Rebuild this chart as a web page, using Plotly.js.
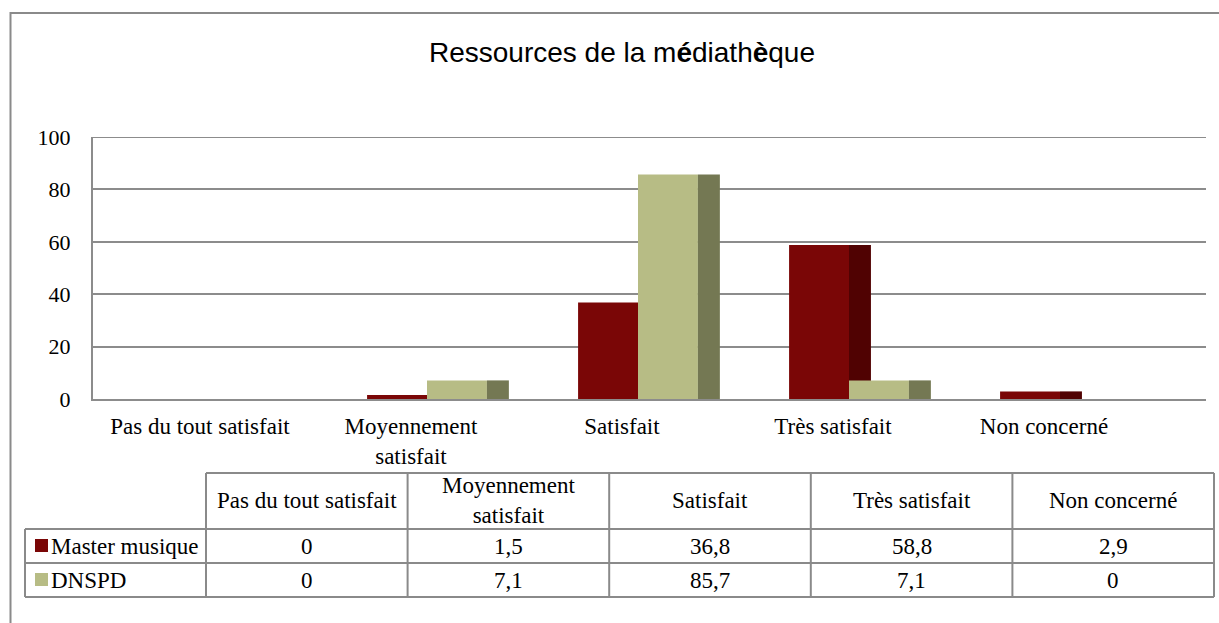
<!DOCTYPE html>
<html>
<head>
<meta charset="utf-8">
<script src="https://cdn.plot.ly/plotly-3.0.1.min.js"></script>
<style>
html,body{margin:0;padding:0;background:#fff;}
#chart{width:1219px;height:623px;}
</style>
</head>
<body>
<div id="chart"></div>
<script>
// ---- data ----
const categories = ['Pas du tout satisfait', 'Moyennement satisfait', 'Satisfait', 'Très satisfait', 'Non concerné'];
const tickLabels = ['Pas du tout satisfait', 'Moyennement<br>satisfait', 'Satisfait', 'Très satisfait', 'Non concerné'];
const headerLabels = ['Pas du tout satisfait', 'Moyennement<br>satisfait', 'Satisfait', 'Très satisfait', 'Non concerné'];
const seriesNames = ['Master musique', 'DNSPD'];
const masterMusique = [0, 1.5, 36.8, 58.8, 2.9];
const dnspd = [0, 7.1, 85.7, 7.1, 0];
const yTicks = [0, 20, 40, 60, 80, 100];

// ---- styles ----
const RED = '#7a0606', RED_SIDE = '#500202';
const GREEN = '#b7bc85', GREEN_SIDE = '#747853';
const GRID = '#8c8c8c';
const SERIF = 'Liberation Serif';
const FRONT_W = 0.284, SIDE_W = 0.104, LABEL_SHIFT = -0.076;

const xs = categories.map((c, i) => i);
const seriesValues = [masterMusique, dnspd];
const seriesColors = [RED, GREEN];

function barTrace(vals, color, offset, width, name) {
  return {
    type: 'bar', x: xs, y: vals, name: name,
    offset: offset, width: width,
    marker: {color: color, opacity: 1, line: {width: 0}},
    hoverinfo: 'skip', showlegend: false
  };
}

const traces = [
  barTrace(masterMusique, RED_SIDE, 0, SIDE_W, seriesNames[0]),
  barTrace(masterMusique, RED, -FRONT_W, FRONT_W, seriesNames[0]),
  barTrace(dnspd, GREEN, 0, FRONT_W, seriesNames[1]),
  barTrace(dnspd, GREEN_SIDE, FRONT_W, SIDE_W, seriesNames[1])
];

// ---- layout helpers (pixel -> paper) ----
const W = 1219, H = 623;
const PL = 93, PR = 1206, PT = 137, PB = 399;
const px = x => (x - PL) / (PR - PL);
const py = y => (PB - y) / (PB - PT);

const shapes = [];
const annotations = [];

// outer chart border
shapes.push({type: 'rect', xref: 'paper', yref: 'paper', x0: px(10.5), x1: px(1230), y0: py(13), y1: py(640),
  line: {color: '#8a8a8a', width: 2}, fillcolor: 'rgba(0,0,0,0)', layer: 'below'});
// top gridline (Plotly drops the gridline sitting on the plot edge)
shapes.push({type: 'line', xref: 'paper', yref: 'y', x0: 0, x1: 1, y0: yTicks[yTicks.length - 1], y1: yTicks[yTicks.length - 1],
  line: {color: GRID, width: 2}, layer: 'below'});

// data table
const tLeft = 25, tLabelRight = 206, tRight = 1214;
const colW = (tRight - tLabelRight) / categories.length;
const rowsY = [473, 529, 563, 597];
const LC = '#8a8a8a';
function hline(x0, x1, y) { shapes.push({type: 'line', xref: 'paper', yref: 'paper', x0: px(x0), x1: px(x1), y0: py(y), y1: py(y), line: {color: LC, width: 2}}); }
function vline(x, y0, y1) { shapes.push({type: 'line', xref: 'paper', yref: 'paper', x0: px(x), x1: px(x), y0: py(y0), y1: py(y1), line: {color: LC, width: 2}}); }
hline(tLabelRight, tRight, rowsY[0]);
hline(tLeft, tRight, rowsY[1]);
hline(tLeft, tRight, rowsY[2]);
hline(tLeft, tRight, rowsY[3]);
vline(tLeft, rowsY[1], rowsY[3]);
for (let i = 0; i <= categories.length; i++) vline(tLabelRight + i * colW, rowsY[0], rowsY[3]);

const tFont = {family: SERIF, size: 23, color: '#000'};
headerLabels.forEach((h, i) => {
  annotations.push({xref: 'paper', yref: 'paper', x: px(tLabelRight + (i + 0.5) * colW), y: py((rowsY[0] + rowsY[1]) / 2),
    text: h, showarrow: false, xanchor: 'center', yanchor: 'middle', font: tFont, align: 'center'});
});
const fmt = v => String(v).replace('.', ',');
seriesNames.forEach((s, r) => {
  const yc = (rowsY[r + 1] + rowsY[r + 2]) / 2;
  shapes.push({type: 'rect', xref: 'paper', yref: 'paper', x0: px(35), x1: px(48), y0: py(yc - 7), y1: py(yc + 6),
    fillcolor: seriesColors[r], line: {width: 0}});
  annotations.push({xref: 'paper', yref: 'paper', x: px(49), y: py(yc), text: s, showarrow: false,
    xanchor: 'left', yanchor: 'middle', font: tFont});
  seriesValues[r].forEach((v, i) => {
    annotations.push({xref: 'paper', yref: 'paper', x: px(tLabelRight + (i + 0.5) * colW), y: py(yc), text: fmt(v),
      showarrow: false, xanchor: 'center', yanchor: 'middle', font: tFont});
  });
});

const layout = {
  width: W, height: H, autosize: false,
  margin: {l: PL, r: W - PR, t: PT, b: H - PB, pad: 0},
  paper_bgcolor: '#fff', plot_bgcolor: '#fff',
  barmode: 'overlay',
  title: {
    text: 'Ressources de la m<b>é</b>diath<b>è</b>que',
    font: {family: 'Liberation Sans', size: 28, color: '#000'},
    x: 622 / W, xanchor: 'center', xref: 'container',
    y: 1 - 52 / H, yanchor: 'middle', yref: 'container'
  },
  xaxis: {
    range: [(PL - 216) / 211, (PR - 216) / 211],
    tickvals: xs.map(i => i + LABEL_SHIFT), ticktext: tickLabels,
    showgrid: false, zeroline: false, showline: true, linecolor: GRID, linewidth: 2,
    ticks: '', tickfont: {family: SERIF, size: 23, color: '#000'}, ticklabelstandoff: 5,
    fixedrange: true
  },
  yaxis: {
    range: [0, 100], tickvals: yTicks, ticktext: yTicks.map(String),
    showgrid: true, gridcolor: GRID, gridwidth: 2, zeroline: false,
    showline: true, linecolor: GRID, linewidth: 2,
    ticks: '', tickfont: {family: SERIF, size: 22, color: '#000'}, ticklabelstandoff: 16,
    fixedrange: true
  },
  shapes: shapes,
  annotations: annotations,
  showlegend: false
};

Plotly.newPlot('chart', traces, layout, {displayModeBar: false, staticPlot: true});
</script>
</body>
</html>
